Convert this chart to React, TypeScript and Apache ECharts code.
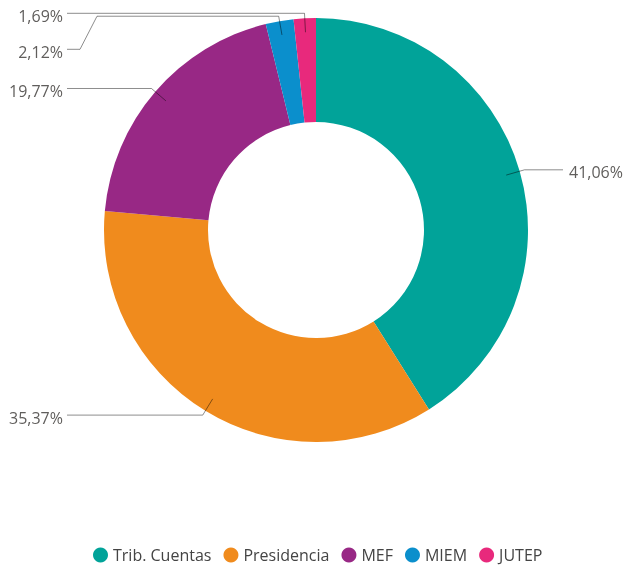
import React, { useEffect, useRef } from 'react';
import * as echarts from 'echarts';

const categories = ['Trib. Cuentas', 'Presidencia', 'MEF', 'MIEM', 'JUTEP'];
const values = [41.06, 35.37, 19.77, 2.12, 1.69];
const colors = ['#01A399', '#F08B1D', '#982885', '#0B8FCC', '#E8297C'];

const FONT = '"Open Sans", "Noto Sans", sans-serif';

export default function App() {
  const ref = useRef<HTMLDivElement>(null);
  useEffect(() => {
    const chart = echarts.init(ref.current!, null, { renderer: 'svg' });
    const cx = 316, cy = 230;
    const rOuter = 212, rInner = 108;
    const rStart = 198, rElbow = 217;
    const leftEnd = 67, rightEnd = 563;
    const total = values.reduce((a, b) => a + b, 0);
    const mids: number[] = [];
    let acc = 0;
    values.forEach((v) => { mids.push(acc + v / 2); acc += v; });
    const polar = (i: number, r: number) => {
      const th = (mids[i] / total) * 2 * Math.PI;
      return [cx + r * Math.sin(th), cy - r * Math.cos(th)];
    };
    const lineY: number[] = values.map((_, i) => polar(i, rElbow)[1]);
    const isLeft = values.map((_, i) => polar(i, rElbow)[0] < cx);
    const minGap = 36;
    [true, false].forEach((side) => {
      const idx = values.map((_, i) => i).filter((i) => isLeft[i] === side)
        .sort((a, b) => lineY[a] - lineY[b]);
      let prev = -Infinity;
      idx.forEach((i) => {
        if (lineY[i] < prev + minGap) lineY[i] = prev + minGap;
        prev = lineY[i];
      });
    });

    const pieData = categories.map((name, i) => ({ name, value: values[i] }));

    chart.setOption({
      animation: false,
      color: colors,
      legend: {
        data: categories.map((name, i) => ({ name, itemStyle: { color: colors[i] } })),
        top: 542,
        left: 88,
        icon: 'circle',
        itemWidth: 15,
        itemHeight: 15,
        itemGap: 12,
        textStyle: { fontSize: 16, color: '#444', fontFamily: FONT },
      },
      series: [
        {
          type: 'pie',
          z: 2,
          center: [cx, cy],
          radius: [rInner, rOuter],
          startAngle: 90,
          clockwise: true,
          silent: true,
          data: pieData,
          label: { show: false },
          labelLine: { show: false },
        },
        {
          type: 'pie',
          z: 3,
          center: [cx, cy],
          radius: [rInner, rOuter],
          startAngle: 90,
          clockwise: true,
          silent: true,
          legendHoverLink: false,
          avoidLabelOverlap: false,
          data: pieData,
          itemStyle: { color: 'rgba(0,0,0,0)' },
          label: {
            show: true,
            formatter: (p: any) => p.value.toFixed(2).replace('.', ',') + '%',
            fontSize: 16,
            color: '#605E5C',
            fontFamily: FONT,
            overflow: 'none',
          },
          labelLine: { show: true, length: 10, length2: 10, lineStyle: { color: 'rgba(0,0,0,0.45)', width: 1 } },
          labelLayout: (params: any) => {
            const i = params.dataIndex;
            const p0 = polar(i, rStart);
            const p1 = polar(i, rElbow);
            const y = lineY[i];
            const left = isLeft[i];
            const endX = left ? leftEnd : rightEnd;
            let pts: number[][];
            if (Math.abs(y - p1[1]) < 0.5) {
              pts = [p0, p1, [endX, y]];
            } else {
              const s = left ? 1 : -1;
              pts = [p0, p1, [endX + s * 30, p1[1]], [endX + s * 13, y], [endX, y]];
            }
            return {
              x: left ? endX - 4 : endX + 6,
              y: y + 2.5,
              align: left ? 'right' : 'left',
              verticalAlign: 'middle',
              labelLinePoints: pts,
            };
          },
        },
      ],
    });
    return () => chart.dispose();
  }, []);
  return <div ref={ref} style={{ position: 'fixed', left: 0, top: 0, width: 623, height: 567 }} />;
}
